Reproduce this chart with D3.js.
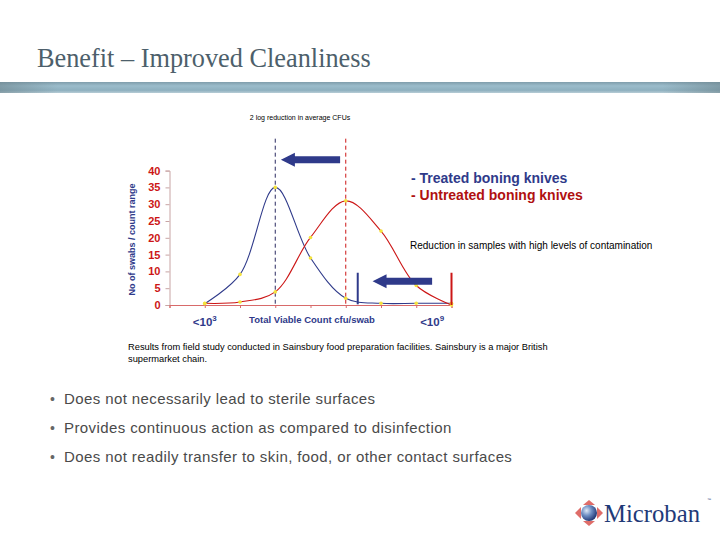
<!DOCTYPE html>
<html>
<head>
<meta charset="utf-8">
<script src="https://cdn.jsdelivr.net/npm/d3@7"></script>
<style>
  body { margin: 0; background: #fff; }
  svg { display: block; }
</style>
</head>
<body>
<div id="chart"></div>
<script>
// category positions along the count axis (0 is the empty slot at the y axis)
let positions = [1, 2, 3, 4, 5, 6, 7, 8];
let treated = [0.4, 9.1, 35, 14, 2, 0.5, 0.5, 0.5];
let untreated = [0.5, 0.9, 3.9, 20.1, 31, 22, 5.8, 0];
let yTicks = [0, 5, 10, 15, 20, 25, 30, 35, 40];
let xLabels = [{ at: 1, text: "<10", sup: "3" }, { at: 7.45, text: "<10", sup: "9" }];
let bullets = [
  "Does not necessarily lead to sterile surfaces",
  "Provides continuous action as compared to disinfection",
  "Does not readily transfer to skin, food, or other contact surfaces"
];

let w = 720;
let h = 540;
let navy = "#2f3a8a";
let red = "#cc1616";
let sans = "'Liberation Sans', Arial, sans-serif";

let svg = d3.select("#chart")
    .append("svg")
    .attr("width", w)
    .attr("height", h);

let defs = svg.append("defs");
let band = defs.append("linearGradient")
    .attr("id", "band")
    .attr("x1", 0).attr("y1", 0).attr("x2", 0).attr("y2", 1);
band.append("stop").attr("offset", "0%").attr("stop-color", "#7f9dab");
band.append("stop").attr("offset", "35%").attr("stop-color", "#9bbccb");
band.append("stop").attr("offset", "75%").attr("stop-color", "#8eb0bf");
band.append("stop").attr("offset", "100%").attr("stop-color", "#b7cdd6");
let bandSide = defs.append("linearGradient")
    .attr("id", "bandSide")
    .attr("x1", 0).attr("y1", 0).attr("x2", 1).attr("y2", 0);
bandSide.append("stop").attr("offset", "0%").attr("stop-color", "#6f8790").attr("stop-opacity", 0.6);
bandSide.append("stop").attr("offset", "8%").attr("stop-color", "#6f8790").attr("stop-opacity", 0);
bandSide.append("stop").attr("offset", "92%").attr("stop-color", "#6f8790").attr("stop-opacity", 0);
bandSide.append("stop").attr("offset", "100%").attr("stop-color", "#6f8790").attr("stop-opacity", 0.6);
let globe = defs.append("radialGradient")
    .attr("id", "globe")
    .attr("cx", "35%").attr("cy", "35%").attr("r", "70%");
globe.append("stop").attr("offset", "0%").attr("stop-color", "#dfe9f7");
globe.append("stop").attr("offset", "45%").attr("stop-color", "#6f8fc4");
globe.append("stop").attr("offset", "100%").attr("stop-color", "#1d3270");

// title and band
svg.append("text")
    .attr("x", 37)
    .attr("y", 67)
    .attr("font-family", "'Liberation Serif', 'DejaVu Serif', serif")
    .attr("font-size", "26.3px")
    .attr("fill", "#4d5f6b")
    .text("Benefit \u2013 Improved Cleanliness");

svg.append("rect")
    .attr("x", 0).attr("y", 82)
    .attr("width", w).attr("height", 11)
    .attr("fill", "url(#band)");
svg.append("rect")
    .attr("x", 0).attr("y", 82)
    .attr("width", w).attr("height", 11)
    .attr("fill", "url(#bandSide)");

// chart
let x = d3.scaleLinear().domain([0, 8]).range([169.5, 451.5]);
let y = d3.scaleLinear().domain([0, 40]).range([305, 170.6]);

let g = svg.append("g");

let yAxis = g.append("g")
    .attr("transform", "translate(" + x(0) + ",0)")
    .call(d3.axisLeft(y).tickValues(yTicks).tickSize(4).tickPadding(5));
yAxis.select(".domain").attr("stroke", "#c8a4a4");
yAxis.selectAll(".tick line").attr("stroke", "#c8a4a4");
yAxis.selectAll(".tick text")
    .attr("font-family", sans)
    .attr("font-weight", "bold")
    .attr("font-size", "11px")
    .attr("fill", red);

let xAxis = g.append("g")
    .attr("transform", "translate(0," + y(0) + ")")
    .call(d3.axisBottom(x).tickValues(d3.range(0, 9)).tickSize(3).tickFormat(""));
xAxis.select(".domain").attr("stroke", "#d86a6a");
xAxis.selectAll(".tick line").attr("stroke", "#d86a6a");

g.append("text")
    .attr("transform", "translate(135," + y(19.5) + ") rotate(-90)")
    .attr("text-anchor", "middle")
    .attr("font-family", sans)
    .attr("font-weight", "bold")
    .attr("font-size", "9px")
    .attr("fill", navy)
    .text("No of swabs / count range");

// x labels
xLabels.forEach(function(d) {
    let t = g.append("text")
        .attr("x", x(d.at))
        .attr("y", 326)
        .attr("text-anchor", "middle")
        .attr("font-family", sans)
        .attr("font-weight", "bold")
        .attr("font-size", "11.5px")
        .attr("fill", navy);
    t.append("tspan").text(d.text);
    t.append("tspan").attr("dy", -5).attr("font-size", "8px").text(d.sup);
});
g.append("text")
    .attr("x", 312)
    .attr("y", 323)
    .attr("text-anchor", "middle")
    .attr("font-family", sans)
    .attr("font-weight", "bold")
    .attr("font-size", "9.5px")
    .attr("fill", navy)
    .text("Total Viable Count cfu/swab");

// dashed mean lines
let peakT = positions[treated.indexOf(d3.max(treated))];
let peakU = positions[untreated.indexOf(d3.max(untreated))];
g.append("line")
    .attr("x1", x(peakT)).attr("x2", x(peakT))
    .attr("y1", y(49.5)).attr("y2", y(0))
    .attr("stroke", "#2a2a60").attr("stroke-width", 1)
    .attr("stroke-dasharray", "4,3");
g.append("line")
    .attr("x1", x(peakU)).attr("x2", x(peakU))
    .attr("y1", y(49.5)).attr("y2", y(0))
    .attr("stroke", red).attr("stroke-width", 1)
    .attr("stroke-dasharray", "4,3");

// curves
let line = d3.line()
    .x(function(d, i) { return x(positions[i]); })
    .y(function(d) { return y(d); })
    .curve(d3.curveCatmullRom.alpha(0.5));

g.append("path")
    .datum(treated)
    .attr("d", line)
    .attr("fill", "none")
    .attr("stroke", navy)
    .attr("stroke-width", 1.1);
g.append("path")
    .datum(untreated)
    .attr("d", line)
    .attr("fill", "none")
    .attr("stroke", red)
    .attr("stroke-width", 1.1);

[treated, untreated].forEach(function(series) {
    g.selectAll(null)
        .data(series)
        .enter()
        .append("circle")
        .attr("cx", function(d, i) { return x(positions[i]); })
        .attr("cy", function(d) { return y(d); })
        .attr("r", 1.8)
        .attr("fill", "#f4e23c");
});

// high contamination markers
g.append("line")
    .attr("x1", x(5.34)).attr("x2", x(5.34))
    .attr("y1", y(9.6)).attr("y2", y(0.2))
    .attr("stroke", navy).attr("stroke-width", 2);
g.append("line")
    .attr("x1", x(8)).attr("x2", x(8))
    .attr("y1", y(9.6)).attr("y2", y(0))
    .attr("stroke", red).attr("stroke-width", 2);

// arrows
function arrow(from, to, at) {
    let x0 = x(from), x1 = x(to), yy = y(at);
    g.append("path")
        .attr("d", "M" + x0 + "," + (yy - 3.5) +
            "L" + (x1 + 14) + "," + (yy - 3.5) +
            "L" + (x1 + 14) + "," + (yy - 7) +
            "L" + x1 + "," + yy +
            "L" + (x1 + 14) + "," + (yy + 7) +
            "L" + (x1 + 14) + "," + (yy + 3.5) +
            "L" + x0 + "," + (yy + 3.5) + "Z")
        .attr("fill", navy);
}
arrow(4.84, 3.16, 43.2);
arrow(7.45, 5.76, 7.1);

// annotations
svg.append("text")
    .attr("x", 300).attr("y", 120)
    .attr("text-anchor", "middle")
    .attr("font-family", sans)
    .attr("font-size", "7px")
    .attr("fill", "#000")
    .text("2 log reduction in average CFUs");

svg.append("text")
    .attr("x", 411).attr("y", 183)
    .attr("font-family", sans)
    .attr("font-weight", "bold")
    .attr("font-size", "14px")
    .attr("fill", navy)
    .text("- Treated boning knives");
svg.append("text")
    .attr("x", 411).attr("y", 199.5)
    .attr("font-family", sans)
    .attr("font-weight", "bold")
    .attr("font-size", "14px")
    .attr("fill", "#b01010")
    .text("- Untreated boning knives");

svg.append("text")
    .attr("x", 410).attr("y", 249)
    .attr("font-family", sans)
    .attr("font-size", "10px")
    .attr("fill", "#000")
    .text("Reduction in samples with high levels of contamination");

svg.append("text")
    .attr("x", 128).attr("y", 350)
    .attr("font-family", sans)
    .attr("font-size", "9.3px")
    .attr("fill", "#000")
    .text("Results from field study conducted in Sainsbury food preparation facilities.  Sainsbury is a major British");
svg.append("text")
    .attr("x", 128).attr("y", 362)
    .attr("font-family", sans)
    .attr("font-size", "9.3px")
    .attr("fill", "#000")
    .text("supermarket chain.");

// bullets
let bl = svg.selectAll(".bullet")
    .data(bullets)
    .enter()
    .append("g")
    .attr("class", "bullet")
    .attr("transform", function(d, i) { return "translate(0," + (404 + i * 29) + ")"; });
bl.append("text")
    .attr("x", 50)
    .attr("font-family", sans)
    .attr("font-size", "14px")
    .attr("fill", "#666")
    .text("\u2022");
bl.append("text")
    .attr("x", 64)
    .attr("font-family", sans)
    .attr("font-size", "15px")
    .attr("letter-spacing", "0.4px")
    .attr("fill", "#4a4a4a")
    .text(function(d) { return d; });

// logo
let logo = svg.append("g").attr("transform", "translate(589,513)");
[[-14, 0, -8, -6, -8, 6], [14, 0, 8, -6, 8, 6], [0, -13, -6, -8, 6, -8], [0, 13, -6, 8, 6, 8]]
    .forEach(function(p) {
        logo.append("path")
            .attr("d", "M" + p[0] + "," + p[1] + "L" + p[2] + "," + p[3] + "L" + p[4] + "," + p[5] + "Z")
            .attr("fill", "#d9534f")
            .attr("opacity", 0.85);
    });
logo.append("circle")
    .attr("r", 8)
    .attr("fill", "url(#globe)");
svg.append("text")
    .attr("x", 604).attr("y", 522)
    .attr("font-family", "'Liberation Serif', 'DejaVu Serif', serif")
    .attr("font-size", "25px")
    .attr("fill", "#1f3a78")
    .attr("textLength", 96)
    .attr("lengthAdjust", "spacingAndGlyphs")
    .text("Microban");
svg.append("text")
    .attr("x", 707).attr("y", 501)
    .attr("font-family", sans)
    .attr("font-size", "4px")
    .attr("fill", "#1f3a78")
    .text("\u2122");
</script>
</body>
</html>
